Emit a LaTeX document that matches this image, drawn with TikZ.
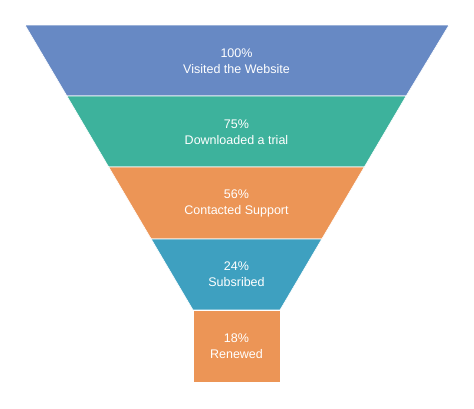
\documentclass[tikz,border=0pt]{standalone}
\usepackage{fontspec}
\setmainfont{Liberation Sans}
\usepackage{tikz}
\definecolor{visblue}{RGB}{103,137,196}
\definecolor{dlgreen}{RGB}{61,178,156}
\definecolor{suporange}{RGB}{236,149,86}
\definecolor{subteal}{RGB}{62,160,192}

\begin{document}
\begin{tikzpicture}[x=1pt,y=-1pt,
 band/.style={draw=white,line width=0.6pt},
 lbl/.style={text=white,align=center,font=\fontsize{12.5}{16}\selectfont}]
\useasboundingbox (0,0) rectangle (474,408);
\filldraw[band,fill=visblue] (25,25) -- (449,25) -- (406.1,96) -- (66.9,96) -- cycle;
\filldraw[band,fill=dlgreen] (66.9,96) -- (406.1,96) -- (364.3,167) -- (108.7,167) -- cycle;
\filldraw[band,fill=suporange] (108.7,167) -- (364.3,167) -- (321.8,239) -- (151.2,239) -- cycle;
\filldraw[band,fill=subteal] (151.2,239) -- (321.8,239) -- (280,310) -- (193,310) -- cycle;
\filldraw[band,fill=suporange] (193,310) rectangle (280,382);
\node[lbl] (visit) at (236.5,61) {100\%\\Visited the Website};
\node[lbl] (trial) at (236.5,132) {75\%\\Downloaded a trial};
\node[lbl] (support) at (236.5,203) {56\%\\Contacted Support};
\node[lbl] (subs) at (236.5,274.5) {24\%\\Subsribed};
\node[lbl] (renew) at (236.5,346) {18\%\\Renewed};
\end{tikzpicture}
\end{document}
